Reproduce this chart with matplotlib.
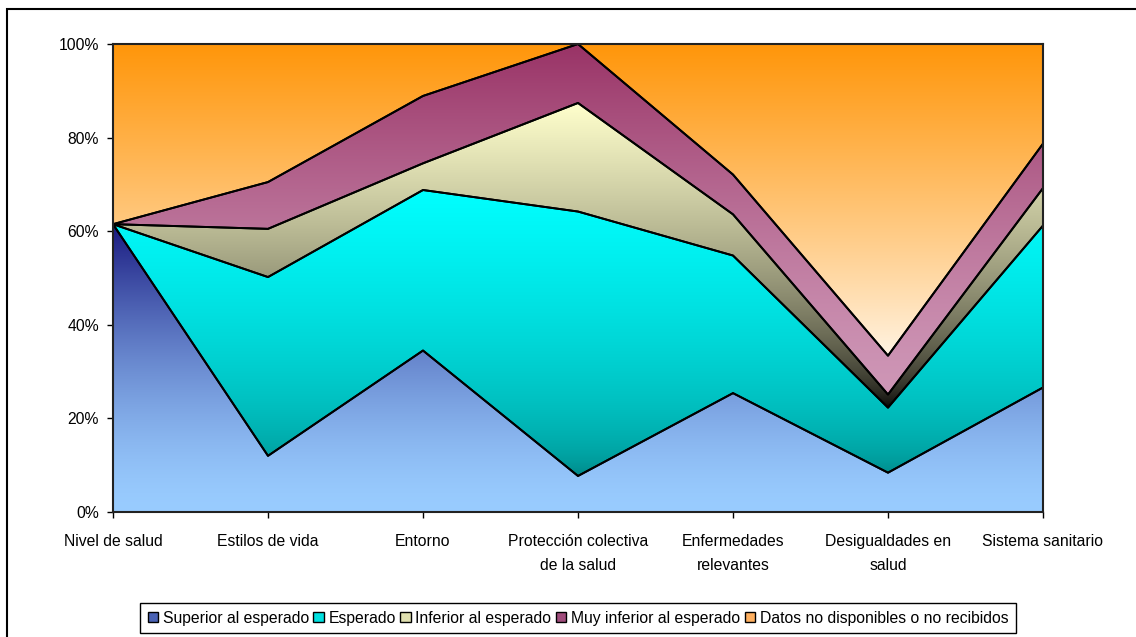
import numpy as np
import matplotlib
matplotlib.use("Agg")
import matplotlib.pyplot as plt
from matplotlib.patches import Patch, Rectangle

plt.rcParams['font.family'] = ['Liberation Sans', 'DejaVu Sans']

categories = ["Nivel de salud", "Estilos de vida", "Entorno", "Protección colectiva\nde la salud",
              "Enfermedades\nrelevantes", "Desigualdades en\nsalud", "Sistema sanitario"]
series_names = ["Superior al esperado", "Esperado", "Inferior al esperado",
                "Muy inferior al esperado", "Datos no disponibles o no recibidos"]

# percentages
superior = [61.5, 12.0, 34.5, 7.7, 25.4, 8.4, 26.6]
esperado = [0.0, 38.2, 34.3, 56.5, 29.4, 13.9, 34.6]
inferior = [0.0, 10.3, 5.7, 23.2, 8.8, 2.8, 8.0]
muy_inferior = [0.0, 10.0, 14.4, 12.6, 8.5, 8.3, 9.5]
no_datos = [38.5, 29.5, 11.1, 0.0, 27.9, 66.6, 21.3]

# gradient colours: (bottom, top, exponent applied to t)
grads = [
    ((153, 204, 255), (26, 26, 128), 1.5),
    ((0, 128, 128), (0, 255, 255), 0.5),
    ((0, 0, 0), (255, 255, 204), 0.6),
    ((206, 150, 182), (153, 51, 102), 1.4),
    ((255, 244, 228), (255, 150, 10), 0.9),
]
legend_cols = ['#4a62b4', '#00e0e0', '#e0e0b0', '#a04c7c', '#ffb060']

data = np.array([superior, esperado, inferior, muy_inferior, no_datos])
data = data / data.sum(axis=0) * 100
cum = np.vstack([np.zeros(data.shape[1]), np.cumsum(data, axis=0)])
x = np.arange(len(categories))
fs = 11.3

fig = plt.figure(figsize=(11.36, 6.37), dpi=100)
ax = fig.add_axes([113 / 1136, 1 - 512 / 637, 930 / 1136, 468 / 637])

for i in range(len(series_names)):
    lo, hi = cum[i], cum[i + 1]
    poly = ax.fill_between(x, lo, hi, facecolor='none', edgecolor='black', lw=1.4, zorder=3)
    ymin, ymax = lo.min(), hi.max()
    bot, top, ex = grads[i]
    t = np.linspace(0, 1, 256) ** ex
    cols = np.array(bot)[None, :] + (np.array(top) - np.array(bot))[None, :] * t[:, None]
    img = (cols / 255.0)[:, None, :]
    im = ax.imshow(img, extent=[x[0], x[-1], ymin, ymax], origin='lower', aspect='auto',
                   interpolation='bilinear', zorder=1)
    im.set_clip_path(poly.get_paths()[0], ax.transData)

ax.set_xlim(x[0], x[-1])
ax.set_ylim(0, 100)
ax.set_xticks(x)
ax.set_xticklabels(categories, fontsize=fs, linespacing=1.75)
ax.set_yticks(np.arange(0, 101, 20))
ax.set_yticklabels([f"{v}%" for v in range(0, 101, 20)], fontsize=fs)
ax.tick_params(axis='y', direction='out', length=4, width=1, pad=6)
ax.tick_params(axis='x', direction='out', length=4, width=1, pad=12)
for s in ax.spines.values():
    s.set_linewidth(1.5)
    s.set_color('#222222')
    s.set_zorder(5)

handles = [Patch(facecolor=c, edgecolor='black', lw=1) for c in legend_cols]
leg = fig.legend(handles, series_names, loc='center', bbox_to_anchor=(578 / 1136, 1 - 618 / 637),
                 ncol=5, fontsize=fs, frameon=True, fancybox=False, framealpha=1,
                 edgecolor='black', handlelength=0.65, handleheight=0.65, handletextpad=0.3,
                 columnspacing=0.3, borderpad=0.5, borderaxespad=0)
leg.get_frame().set_linewidth(1)

fig.add_artist(Rectangle((7 / 1136, -0.1), 1.2, 1 - 9 / 637 + 0.1, transform=fig.transFigure,
                         fill=False, edgecolor='black', lw=1.5))

fig.savefig('out.png', dpi=100)
